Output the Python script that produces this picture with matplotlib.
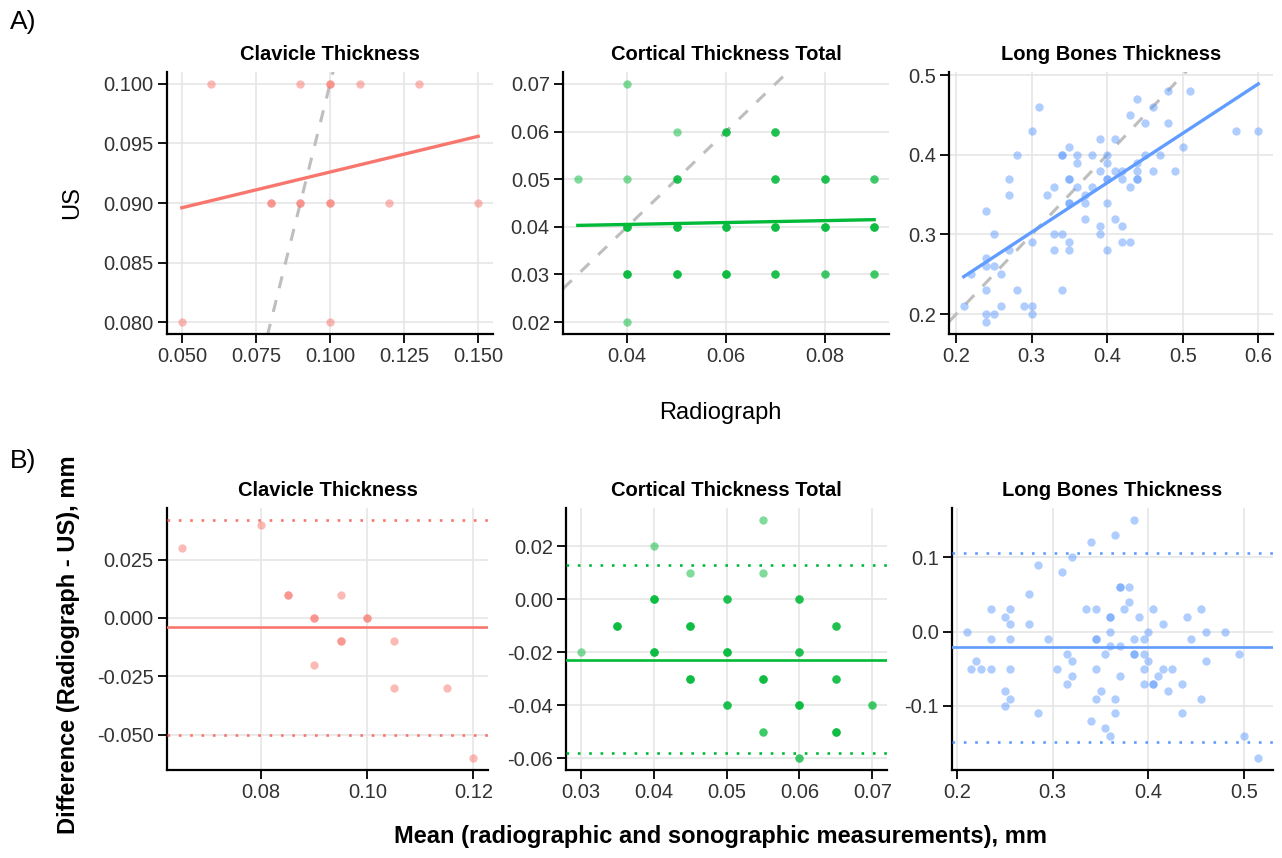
import numpy as np
import matplotlib
matplotlib.use("Agg")
import matplotlib.pyplot as plt
from matplotlib.ticker import MultipleLocator, FormatStrFormatter

plt.rcParams['font.family'] = ['Liberation Sans', 'DejaVu Sans']
plt.rcParams['axes.unicode_minus'] = False

# ---- data (x = Radiograph, y = US) ----
titles = ["Clavicle Thickness", "Cortical Thickness Total", "Long Bones Thickness"]
colors = ["#F8766D", "#00BA38", "#619CFF"]

clav_rad = [0.06, 0.09, 0.10, 0.11, 0.13, 0.08, 0.09, 0.10, 0.12, 0.15, 0.05, 0.10]
clav_us = [0.10, 0.10, 0.10, 0.10, 0.10, 0.09, 0.09, 0.09, 0.09, 0.09, 0.08, 0.08]
clav_n = [1, 1, 2, 1, 1, 2, 2, 2, 1, 1, 1, 1]

cort_rad = [0.04, 0.05, 0.06, 0.07, 0.03, 0.04, 0.05, 0.07, 0.08, 0.09,
            0.04, 0.05, 0.06, 0.07, 0.08, 0.09, 0.04, 0.05, 0.06, 0.07, 0.08, 0.09, 0.04]
cort_us = [0.07, 0.06, 0.06, 0.06, 0.05, 0.05, 0.05, 0.05, 0.05, 0.05,
           0.04, 0.04, 0.04, 0.04, 0.04, 0.04, 0.03, 0.03, 0.03, 0.03, 0.03, 0.03, 0.02]
cort_n = [1, 1, 3, 3, 1, 1, 3, 3, 3, 2, 4, 4, 4, 4, 4, 4, 4, 4, 4, 3, 2, 2, 1]

long_rad = [0.48, 0.51, 0.44, 0.31, 0.46, 0.43, 0.45, 0.48, 0.30, 0.57, 0.60, 0.39, 0.41, 0.35,
            0.50, 0.28, 0.34, 0.36, 0.38, 0.40, 0.45, 0.47, 0.36, 0.40, 0.44, 0.39, 0.41, 0.42,
            0.44, 0.46, 0.49, 0.27, 0.35, 0.40, 0.42, 0.44, 0.33, 0.36, 0.38, 0.43, 0.27, 0.32,
            0.37, 0.35, 0.37, 0.40, 0.24, 0.37, 0.41, 0.39, 0.42, 0.25, 0.33, 0.34, 0.39, 0.30,
            0.35, 0.42, 0.43, 0.27, 0.33, 0.35, 0.40, 0.24, 0.24, 0.25, 0.22, 0.26, 0.24, 0.28,
            0.34, 0.21, 0.26, 0.29, 0.30, 0.24, 0.25, 0.30, 0.24]
long_us = [0.48, 0.48, 0.47, 0.46, 0.46, 0.45, 0.44, 0.44, 0.43, 0.43, 0.43, 0.42, 0.42, 0.41,
           0.41, 0.40, 0.40, 0.40, 0.40, 0.40, 0.40, 0.40, 0.39, 0.39, 0.39, 0.38, 0.38, 0.38,
           0.38, 0.38, 0.38, 0.37, 0.37, 0.37, 0.37, 0.37, 0.36, 0.36, 0.36, 0.36, 0.35, 0.35,
           0.35, 0.34, 0.34, 0.34, 0.33, 0.32, 0.32, 0.31, 0.31, 0.30, 0.30, 0.30, 0.30, 0.29,
           0.29, 0.29, 0.29, 0.28, 0.28, 0.28, 0.28, 0.27, 0.26, 0.26, 0.25, 0.25, 0.23, 0.23,
           0.23, 0.21, 0.21, 0.21, 0.21, 0.20, 0.20, 0.20, 0.19]
long_n = [1] * 16 + [2] + [1] * 15 + [2, 2, 1, 2] + [1] * 7 + [2] + [1] * 35

# fitted regression line end values (at min / max radiograph value)
fit_y = [[0.0896, 0.0956], [0.0403, 0.0415], [0.247, 0.489]]

# Bland-Altman mean difference and limits of agreement
ba_mean = [-0.004, -0.023, -0.021]
ba_upper = [0.042, 0.013, 0.105]
ba_lower = [-0.050, -0.058, -0.148]

rads = [clav_rad, cort_rad, long_rad]
uss = [clav_us, cort_us, long_us]
counts = [clav_n, cort_n, long_n]

# tick steps and formats
a_ticks = [(0.025, 0.005, '%.3f', '%.3f'), (0.02, 0.01, '%.2f', '%.2f'), (0.1, 0.1, '%.1f', '%.1f')]
b_ticks = [(0.02, 0.025, '%.2f', '%.3f'), (0.01, 0.02, '%.2f', '%.2f'), (0.1, 0.1, '%.1f', '%.1f')]


def expand(vals, mult=0.05):
    lo, hi = min(vals), max(vals)
    pad = (hi - lo) * mult
    return lo - pad, hi + pad


def style_axes(ax, title, xstep, ystep, xfmt, yfmt):
    for side in ['top', 'right']:
        ax.spines[side].set_visible(False)
    for side in ['left', 'bottom']:
        ax.spines[side].set_linewidth(1.6)
        ax.spines[side].set_color('black')
    ax.xaxis.set_major_locator(MultipleLocator(xstep))
    ax.yaxis.set_major_locator(MultipleLocator(ystep))
    ax.xaxis.set_major_formatter(FormatStrFormatter(xfmt))
    ax.yaxis.set_major_formatter(FormatStrFormatter(yfmt))
    ax.grid(True, color='#E6E6E6', linewidth=1.2)
    ax.set_axisbelow(True)
    ax.tick_params(direction='out', length=6.5, width=1.3, color='black',
                   labelsize=14.5, labelcolor='#333333', pad=3)
    ax.set_title(title, fontsize=14.5, fontweight='bold', pad=9)


fig = plt.figure(figsize=(12.82, 8.58), dpi=100)
W, H = 1282, 858

a_lefts = [167, 563, 949]
a_widths = [326, 326, 324]
b_lefts = [167, 566, 952]
b_widths = [321, 321, 321]

for i in range(3):
    rad = np.repeat(rads[i], counts[i])
    us = np.repeat(uss[i], counts[i])
    col = colors[i]

    # ---- A) scatter with regression and identity line ----
    ax = fig.add_axes([a_lefts[i] / W, 1 - 334 / H, a_widths[i] / W, 262 / H])
    fx = [rad.min(), rad.max()]
    xlim = expand(list(rad))
    ylim = expand(list(us) + fit_y[i])
    ax.scatter(rad, us, s=36, color=col, alpha=0.5, linewidths=0, zorder=3)
    ax.plot(fx, fit_y[i], color=col, linewidth=2.4, zorder=4)
    ax.plot(xlim, xlim, color='#BEBEBE', linewidth=2.2, dashes=(4, 4), zorder=2)
    ax.set_xlim(xlim)
    ax.set_ylim(ylim)
    xs, ys, xf, yf = a_ticks[i]
    style_axes(ax, titles[i], xs, ys, xf, yf)

    # ---- B) Bland-Altman ----
    mean = (rad + us) / 2
    diff = us - rad
    bx = fig.add_axes([b_lefts[i] / W, 1 - 770 / H, b_widths[i] / W, 262 / H])
    bx.scatter(mean, diff, s=36, color=col, alpha=0.5, linewidths=0, zorder=3)
    bx.axhline(ba_mean[i], color=col, linewidth=1.9, zorder=4)
    bx.axhline(ba_upper[i], color=col, linewidth=1.9, dashes=(1, 3.3), zorder=4)
    bx.axhline(ba_lower[i], color=col, linewidth=1.9, dashes=(1, 3.3), zorder=4)
    bx.set_xlim(expand(list(mean)))
    bx.set_ylim(expand(list(diff) + [ba_upper[i], ba_lower[i]]))
    xs, ys, xf, yf = b_ticks[i]
    style_axes(bx, titles[i], xs, ys, xf, yf)

# axis titles and panel tags
fig.text(72 / W, 1 - 203 / H, "US", rotation=90, fontsize=17, ha='center', va='center')
fig.text(720 / W, 1 - 413 / H, "Radiograph", fontsize=17, ha='center', va='center')
fig.text(69 / W, 1 - 645 / H, "Difference (Radiograph - US), mm", rotation=90,
         fontsize=17, fontweight='bold', ha='center', va='center')
fig.text(720 / W, 1 - 836 / H, "Mean (radiographic and sonographic measurements), mm",
         fontsize=17, fontweight='bold', ha='center', va='center')
fig.text(10 / W, 1 - 22 / H, "A)", fontsize=19, ha='left', va='center')
fig.text(10 / W, 1 - 461 / H, "B)", fontsize=19, ha='left', va='center')

fig.savefig("out.png", dpi=100, facecolor='white')
